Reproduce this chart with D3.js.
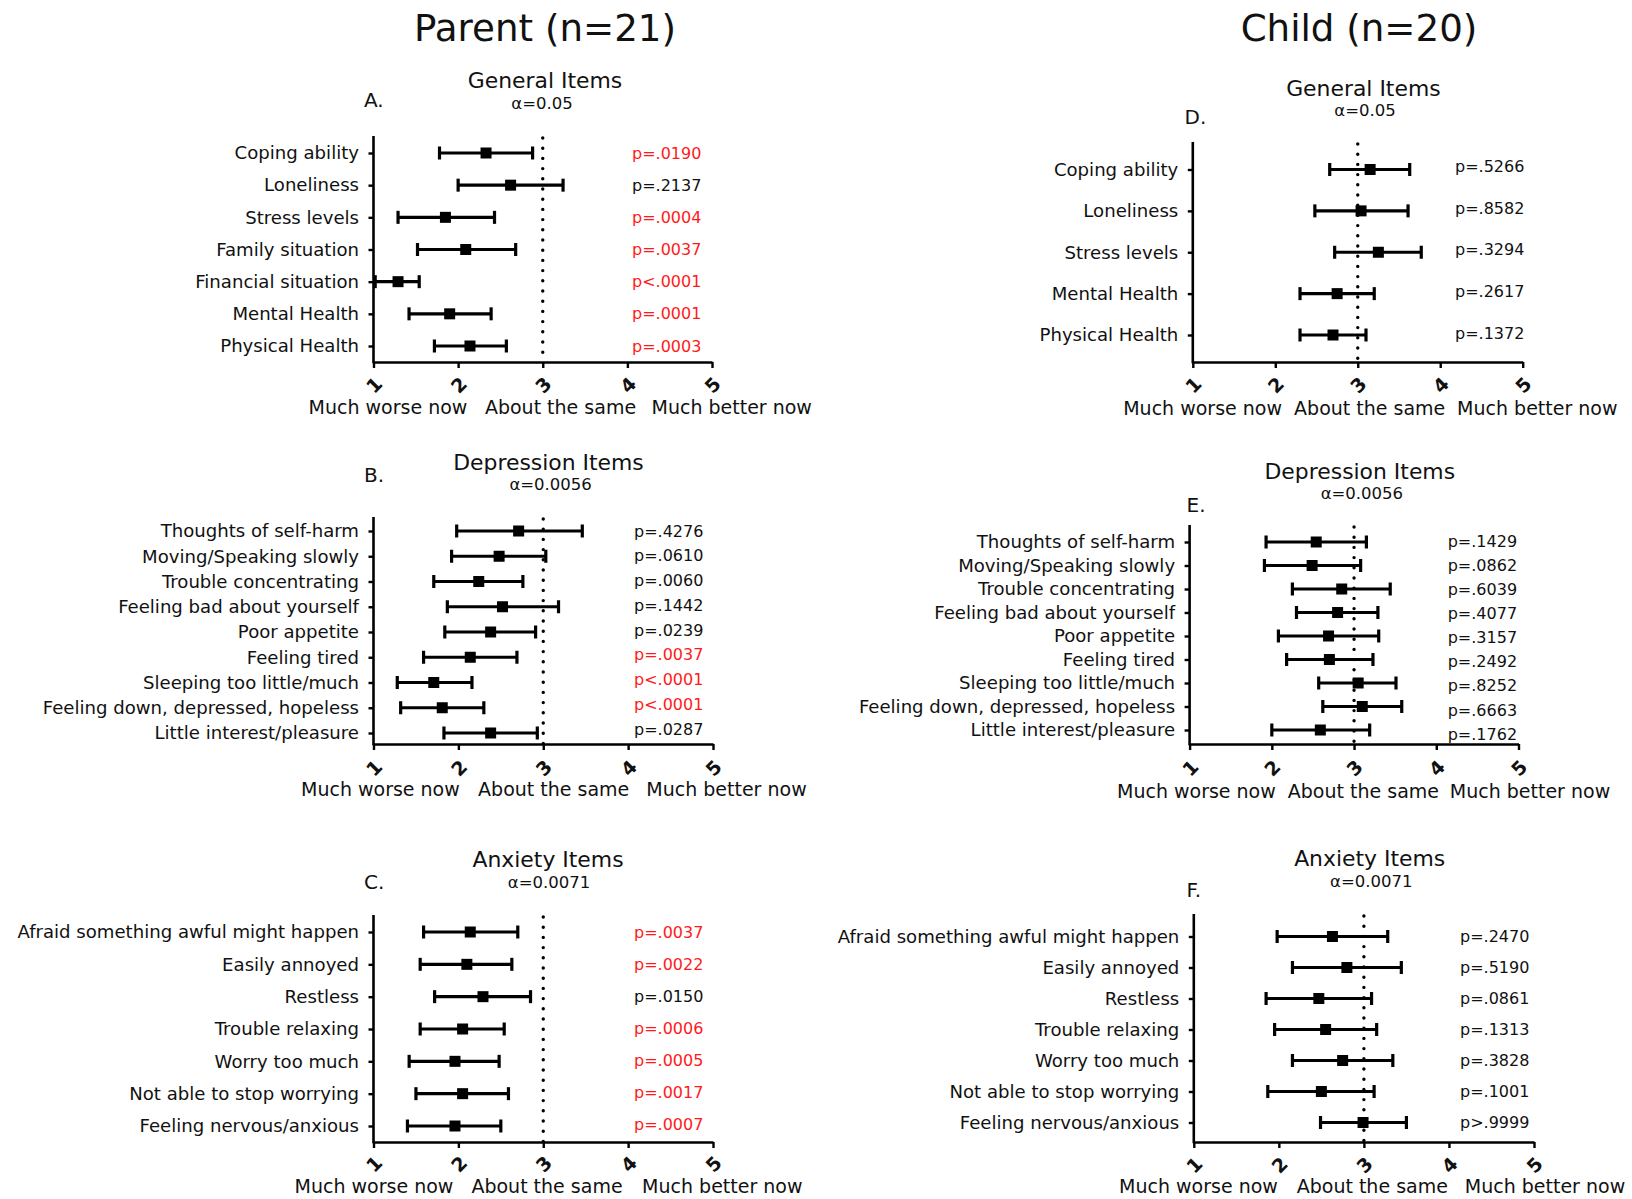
<!DOCTYPE html>
<html>
<head>
<meta charset="utf-8">
<script src="https://cdn.jsdelivr.net/npm/d3@7"></script>
<style>
  html, body { margin: 0; padding: 0; background: #ffffff; }
  svg { display: block; }
  text { font-family: "DejaVu Sans", "Open Sans", sans-serif; fill: #111; }
</style>
</head>
<body>
<svg id="chart" width="1632" height="1199"></svg>
<script>
// ---------------- DATA ----------------
const groupTitles = ["Parent (n=21)", "Child (n=20)"];
const panelLetters = ["A.", "B.", "C.", "D.", "E.", "F."];
const panelNames = ["General Items", "Depression Items", "Anxiety Items", "General Items", "Depression Items", "Anxiety Items"];
const panelAlphas = ["α=0.05", "α=0.0056", "α=0.0071", "α=0.05", "α=0.0056", "α=0.0071"];
const tickValues = [1, 2, 3, 4, 5];
const anchorLabels = ["Much worse now", "About the same", "Much better now"];
const referenceValue = 3;

// A. Parent - General
const parentGeneralItems = ["Coping ability", "Loneliness", "Stress levels", "Family situation", "Financial situation", "Mental Health", "Physical Health"];
const parentGeneralMean = [2.33, 2.62, 1.85, 2.09, 1.29, 1.90, 2.14];
const parentGeneralLow  = [1.78, 2.00, 1.29, 1.52, 1.02, 1.42, 1.72];
const parentGeneralHigh = [2.88, 3.24, 2.43, 2.68, 1.54, 2.39, 2.57];
const parentGeneralP    = ["p=.0190", "p=.2137", "p=.0004", "p=.0037", "p<.0001", "p=.0001", "p=.0003"];
const parentGeneralSig  = [true, false, true, true, true, true, true];

// B. Parent - Depression
const parentDepItems = ["Thoughts of self-harm", "Moving/Speaking slowly", "Trouble concentrating", "Feeling bad about yourself", "Poor appetite", "Feeling tired", "Sleeping too little/much", "Feeling down, depressed, hopeless", "Little interest/pleasure"];
const parentDepMean = [2.71, 2.48, 2.24, 2.52, 2.38, 2.14, 1.71, 1.81, 2.38];
const parentDepLow  = [1.98, 1.92, 1.71, 1.87, 1.84, 1.59, 1.28, 1.32, 1.83];
const parentDepHigh = [3.46, 3.03, 2.76, 3.18, 2.91, 2.69, 2.16, 2.30, 2.93];
const parentDepP    = ["p=.4276", "p=.0610", "p=.0060", "p=.1442", "p=.0239", "p=.0037", "p<.0001", "p<.0001", "p=.0287"];
const parentDepSig  = [false, false, false, false, false, true, true, true, false];

// C. Parent - Anxiety
const parentAnxItems = ["Afraid something awful might happen", "Easily annoyed", "Restless", "Trouble relaxing", "Worry too much", "Not able to stop worrying", "Feeling nervous/anxious"];
const parentAnxMean = [2.14, 2.10, 2.29, 2.05, 1.96, 2.05, 1.96];
const parentAnxLow  = [1.59, 1.55, 1.72, 1.55, 1.42, 1.50, 1.40];
const parentAnxHigh = [2.70, 2.63, 2.85, 2.54, 2.48, 2.59, 2.50];
const parentAnxP    = ["p=.0037", "p=.0022", "p=.0150", "p=.0006", "p=.0005", "p=.0017", "p=.0007"];
const parentAnxSig  = [true, true, false, true, true, true, true];

// D. Child - General
const childGeneralItems = ["Coping ability", "Loneliness", "Stress levels", "Mental Health", "Physical Health"];
const childGeneralMean = [3.15, 3.04, 3.25, 2.75, 2.70];
const childGeneralLow  = [2.66, 2.48, 2.72, 2.30, 2.30];
const childGeneralHigh = [3.63, 3.61, 3.77, 3.20, 3.10];
const childGeneralP    = ["p=.5266", "p=.8582", "p=.3294", "p=.2617", "p=.1372"];
const childGeneralSig  = [false, false, false, false, false];

// E. Child - Depression
const childDepItems = ["Thoughts of self-harm", "Moving/Speaking slowly", "Trouble concentrating", "Feeling bad about yourself", "Poor appetite", "Feeling tired", "Sleeping too little/much", "Feeling down, depressed, hopeless", "Little interest/pleasure"];
const childDepMean = [2.54, 2.49, 2.85, 2.80, 2.69, 2.70, 3.05, 3.10, 2.59];
const childDepLow  = [1.93, 1.91, 2.25, 2.30, 2.08, 2.18, 2.57, 2.62, 2.00];
const childDepHigh = [3.15, 3.08, 3.44, 3.29, 3.30, 3.23, 3.51, 3.58, 3.19];
const childDepP    = ["p=.1429", "p=.0862", "p=.6039", "p=.4077", "p=.3157", "p=.2492", "p=.8252", "p=.6663", "p=.1762"];
const childDepSig  = [false, false, false, false, false, false, false, false, false];

// F. Child - Anxiety
const childAnxItems = ["Afraid something awful might happen", "Easily annoyed", "Restless", "Trouble relaxing", "Worry too much", "Not able to stop worrying", "Feeling nervous/anxious"];
const childAnxMean = [2.63, 2.80, 2.47, 2.55, 2.75, 2.50, 2.99];
const childAnxLow  = [1.98, 2.16, 1.85, 1.95, 2.16, 1.87, 2.49];
const childAnxHigh = [3.28, 3.44, 3.09, 3.15, 3.34, 3.12, 3.50];
const childAnxP    = ["p=.2470", "p=.5190", "p=.0861", "p=.1313", "p=.3828", "p=.1001", "p>.9999"];
const childAnxSig  = [false, false, false, false, false, false, false];

// ---------------- LAYOUT ----------------
const groupTitleLayout = [{x: 545, y: 28}, {x: 1359, y: 28}];

const layouts = [
  {x0: 373.5, x1: 712, top: 136, bottom: 362, r0: 153, r1: 346, p0: 153, p1: 346, px: 632, tx: 545, ty: 80, ax: 542, ay: 103, lx: 364, ly: 100, tly: 385, aly: 407, alx: [388, 560.5, 731.7]},
  {x0: 373.5, x1: 713, top: 517, bottom: 744, r0: 531, r1: 733, p0: 531, p1: 729, px: 634, tx: 548.5, ty: 462, ax: 550.6, ay: 484, lx: 364, ly: 475, tly: 768, aly: 789, alx: [380.4, 553.7, 726.5]},
  {x0: 373.5, x1: 713, top: 915, bottom: 1142, r0: 932, r1: 1126, p0: 932, p1: 1124, px: 634, tx: 548, ty: 859, ax: 549, ay: 882, lx: 364, ly: 882, tly: 1164, aly: 1186, alx: [374, 547, 722.3]},
  {x0: 1192.8, x1: 1522.7, top: 142, bottom: 362, r0: 169.5, r1: 335, p0: 166.5, p1: 333, px: 1455, tx: 1363.4, ty: 88, ax: 1365, ay: 110.5, lx: 1184.5, ly: 116.5, tly: 385, aly: 408, alx: [1202.6, 1369.7, 1537.3]},
  {x0: 1189.6, x1: 1518.5, top: 525, bottom: 744, r0: 542, r1: 730, p0: 541.5, p1: 734, px: 1447.7, tx: 1359.8, ty: 471.5, ax: 1361.9, ay: 493, lx: 1186.5, ly: 505, tly: 768, aly: 791, alx: [1196.4, 1363.4, 1530]},
  {x0: 1193.8, x1: 1534, top: 914, bottom: 1142, r0: 936.5, r1: 1122.5, p0: 936, p1: 1122, px: 1460, tx: 1369.7, ty: 858, ax: 1371.3, ay: 881.5, lx: 1186.5, ly: 890, tly: 1165, aly: 1186.5, alx: [1198.5, 1372.3, 1545]}
];

const panelData = [
  {items: parentGeneralItems, mean: parentGeneralMean, low: parentGeneralLow, high: parentGeneralHigh, p: parentGeneralP, sig: parentGeneralSig},
  {items: parentDepItems, mean: parentDepMean, low: parentDepLow, high: parentDepHigh, p: parentDepP, sig: parentDepSig},
  {items: parentAnxItems, mean: parentAnxMean, low: parentAnxLow, high: parentAnxHigh, p: parentAnxP, sig: parentAnxSig},
  {items: childGeneralItems, mean: childGeneralMean, low: childGeneralLow, high: childGeneralHigh, p: childGeneralP, sig: childGeneralSig},
  {items: childDepItems, mean: childDepMean, low: childDepLow, high: childDepHigh, p: childDepP, sig: childDepSig},
  {items: childAnxItems, mean: childAnxMean, low: childAnxLow, high: childAnxHigh, p: childAnxP, sig: childAnxSig}
];

// ---------------- DRAW ----------------
const svg = d3.select("#chart");

svg.selectAll("text.group-title")
  .data(groupTitles)
  .join("text")
  .attr("class", "group-title")
  .attr("x", (d, i) => groupTitleLayout[i].x)
  .attr("y", (d, i) => groupTitleLayout[i].y)
  .attr("dy", "0.35em")
  .attr("text-anchor", "middle")
  .style("font-size", "37.2px")
  .text(d => d);

panelData.forEach((pd, i) => {
  const L = layouts[i];
  const g = svg.append("g");

  const x = d3.scaleLinear().domain([1, 5]).range([L.x0, L.x1]);
  const y = d3.scalePoint().domain(pd.items).range([L.r0, L.r1]);
  const yp = d3.scalePoint().domain(pd.items).range([L.p0, L.p1]);

  // title / alpha / letter
  g.append("text").attr("x", L.tx).attr("y", L.ty).attr("dy", "0.35em")
    .attr("text-anchor", "middle").style("font-size", "21.9px").text(panelNames[i]);
  g.append("text").attr("x", L.ax).attr("y", L.ay).attr("dy", "0.35em")
    .attr("text-anchor", "middle").style("font-size", "16.5px").text(panelAlphas[i]);
  g.append("text").attr("x", L.lx).attr("y", L.ly).attr("dy", "0.35em")
    .attr("text-anchor", "start").style("font-size", "20px").text(panelLetters[i]);

  // reference dotted line
  g.append("line")
    .attr("x1", x(referenceValue)).attr("x2", x(referenceValue))
    .attr("y1", L.top + 2).attr("y2", L.bottom)
    .attr("stroke", "#000").attr("stroke-width", 3.4)
    .attr("stroke-linecap", "round")
    .attr("stroke-dasharray", "0 10.2");

  // x axis
  const xAxis = d3.axisBottom(x).tickValues(tickValues).tickSize(6).tickSizeOuter(0).tickFormat(d3.format("d"));
  const gx = g.append("g").attr("transform", `translate(0,${L.bottom})`).call(xAxis);
  gx.select(".domain").attr("stroke", "#000").attr("stroke-width", 2.6);
  gx.selectAll(".tick line").attr("stroke", "#000").attr("stroke-width", 2.4);
  gx.selectAll(".tick text")
    .attr("y", 0).attr("dy", null)
    .attr("transform", `translate(0,${L.tly - L.bottom}) rotate(-45)`)
    .attr("dominant-baseline", "central")
    .attr("text-anchor", "middle")
    .style("font-size", "19px").style("font-weight", "bold")
    .style("font-family", "\"DejaVu Sans\", sans-serif").attr("fill", "#000");

  // y axis
  const yAxis = d3.axisLeft(y).tickSize(5).tickPadding(9.5).tickSizeOuter(0);
  const gy = g.append("g").attr("transform", `translate(${L.x0},0)`).call(yAxis);
  gy.select(".domain").remove();
  gy.selectAll(".tick line").attr("stroke", "#000").attr("stroke-width", 2.4);
  gy.selectAll(".tick text").style("font-size", "18.1px").style("font-family", "\"DejaVu Sans\", sans-serif").attr("fill", "#111");
  g.append("line")
    .attr("x1", L.x0).attr("x2", L.x0)
    .attr("y1", L.top).attr("y2", L.bottom + 1.3)
    .attr("stroke", "#000").attr("stroke-width", 2.6);

  // axis anchor labels
  g.selectAll("text.anchor")
    .data(anchorLabels)
    .join("text")
    .attr("class", "anchor")
    .attr("x", (d, k) => L.alx[k])
    .attr("y", L.aly).attr("dy", "0.35em")
    .attr("text-anchor", "middle")
    .style("font-size", "19px")
    .text(d => d);

  // error bars
  const rows = pd.items.map((name, k) => ({name, mean: pd.mean[k], low: pd.low[k], high: pd.high[k], p: pd.p[k], sig: pd.sig[k]}));
  const eb = g.selectAll("g.eb").data(rows).join("g").attr("class", "eb");
  eb.append("line")
    .attr("x1", d => x(d.low)).attr("x2", d => x(d.high))
    .attr("y1", d => y(d.name)).attr("y2", d => y(d.name))
    .attr("stroke", "#000").attr("stroke-width", 3.2);
  eb.append("line")
    .attr("x1", d => x(d.low)).attr("x2", d => x(d.low))
    .attr("y1", d => y(d.name) - 6.5).attr("y2", d => y(d.name) + 6.5)
    .attr("stroke", "#000").attr("stroke-width", 3.2);
  eb.append("line")
    .attr("x1", d => x(d.high)).attr("x2", d => x(d.high))
    .attr("y1", d => y(d.name) - 6.5).attr("y2", d => y(d.name) + 6.5)
    .attr("stroke", "#000").attr("stroke-width", 3.2);
  eb.append("rect")
    .attr("x", d => x(d.mean) - 5.5).attr("y", d => y(d.name) - 5.5)
    .attr("width", 11).attr("height", 11)
    .attr("fill", "#000");

  // p values
  g.selectAll("text.pval").data(rows).join("text")
    .attr("class", "pval")
    .attr("x", L.px)
    .attr("y", d => yp(d.name)).attr("dy", "0.35em")
    .attr("text-anchor", "start")
    .style("font-size", "16px")
    .style("fill", d => d.sig ? "#ff1a1a" : "#111")
    .text(d => d.p);
});
</script>
</body>
</html>
